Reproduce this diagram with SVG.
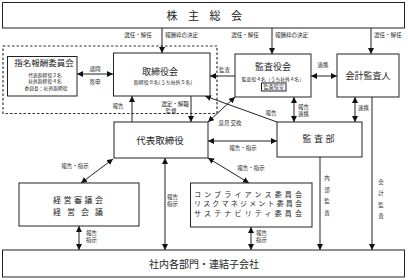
<svg xmlns="http://www.w3.org/2000/svg" width="408" height="280" viewBox="0 0 408 280">
<style>
  .box{fill:#fff;stroke:#222;stroke-width:1}
  .dash{fill:none;stroke:#333;stroke-width:1.2;stroke-dasharray:2.5,2}
  .ln{fill:none;stroke:#222;stroke-width:1}
  .one{marker-end:url(#ah)}
  .two{marker-start:url(#ah);marker-end:url(#ah)}
  text{font-family:"Noto Sans CJK JP","Noto Sans CJK SC",sans-serif;fill:#222}
  .t9{font-size:9px}
  .t8{font-size:8px}
  .t7{font-size:7px}
  .s{font-size:5.5px}
  .m{text-anchor:middle}
</style>
<defs>
  <marker id="ah" viewBox="0 0 6 6" refX="6" refY="3" markerWidth="6" markerHeight="6" markerUnits="userSpaceOnUse" orient="auto-start-reverse">
    <path d="M0,0 L6,3 L0,6 z" fill="#111"/>
  </marker>
</defs>

<g id="dashed-frame">
  <rect class="dash" x="3" y="46" width="214" height="67.5"/>
</g>

<g id="connectors">
  <line class="ln one" x1="162" y1="28" x2="162" y2="53"/>
  <line class="ln one" x1="272" y1="28" x2="272" y2="54"/>
  <line class="ln one" x1="371" y1="28" x2="371" y2="54"/>
  <line class="ln two" x1="77" y1="74" x2="113" y2="74"/>
  <line class="ln one" x1="235" y1="76" x2="210" y2="76"/>
  <line class="ln two" x1="311" y1="76" x2="337" y2="76"/>
  <line class="ln one" x1="191" y1="96" x2="191" y2="122"/>
  <line class="ln one" x1="132" y1="122" x2="132" y2="96"/>
  <line class="ln two" x1="208" y1="122" x2="235" y2="97"/>
  <line class="ln one" x1="277" y1="122" x2="205" y2="96"/>
  <line class="ln two" x1="294" y1="97" x2="294" y2="122"/>
  <line class="ln two" x1="355" y1="97" x2="355" y2="122"/>
  <line class="ln two" x1="208" y1="141" x2="277" y2="141"/>
  <line class="ln two" x1="113" y1="159" x2="81" y2="183"/>
  <line class="ln two" x1="208" y1="158" x2="249" y2="183"/>
  <line class="ln two" x1="165" y1="158" x2="165" y2="250"/>
  <line class="ln two" x1="79" y1="226" x2="79" y2="250"/>
  <line class="ln two" x1="251" y1="227" x2="251" y2="250"/>
  <line class="ln one" x1="320" y1="157" x2="320" y2="250"/>
  <line class="ln one" x1="372" y1="97" x2="372" y2="250"/>
</g>

<g id="connector-labels">
  <text class="s m" x="138" y="37">選任・解任</text>
  <text class="s" x="165" y="37">報酬枠の決定</text>
  <text class="s m" x="245" y="37">選任・解任</text>
  <text class="s" x="275" y="37">報酬枠の決定</text>
  <text class="s" x="374" y="37">選任・解任</text>
  <text class="s m" x="95" y="71">諮問</text>
  <text class="s m" x="95" y="84">答申</text>
  <text class="s" x="219" y="72">監査</text>
  <text class="s m" x="323" y="67">連携</text>
  <text class="s m" x="118" y="108">報告</text>
  <text class="s m" x="175" y="106">選定・解職</text>
  <text class="s m" x="171" y="113">監督</text>
  <text class="s m" x="230" y="125">意見 交換</text>
  <text class="s m" x="271" y="115">報告</text>
  <text class="s" x="298" y="109">報告</text>
  <text class="s" x="298" y="116">連携</text>
  <text class="s" x="358" y="110">連携</text>
  <text class="s m" x="243" y="150">報告・指示</text>
  <text class="s m" x="75" y="168">報告・指示</text>
  <text class="s m" x="251" y="170">報告・指示</text>
  <text class="s" x="167" y="199">報告</text>
  <text class="s" x="167" y="206">指示</text>
  <text class="s" x="86" y="235">報告</text>
  <text class="s" x="86" y="242">指示</text>
  <text class="s" x="256" y="235">報告</text>
  <text class="s" x="256" y="242">指示</text>
  <text class="s m" x="327" y="180">内</text>
  <text class="s m" x="327" y="192">部</text>
  <text class="s m" x="327" y="203">監</text>
  <text class="s m" x="327" y="215">査</text>
  <text class="s m" x="381" y="184">会</text>
  <text class="s m" x="381" y="195">計</text>
  <text class="s m" x="381" y="207">監</text>
  <text class="s m" x="381" y="218">査</text>
</g>

<g id="node-shareholders">
  <rect class="box" x="2.5" y="2.5" width="402" height="25.5"/>
  <text class="m" style="font-size:11px" x="172 193.5 215 236.5" y="20">株主総会</text>
</g>

<g id="node-nomination">
  <rect class="box" x="7.5" y="56.5" width="69.5" height="39.5"/>
  <text class="m" style="font-size:8.5px" x="44" y="66">指名報酬委員会</text>
  <text class="m" style="font-size:4.8px" x="45" y="76.5">代表取締役２名</text>
  <text class="m" style="font-size:4.8px" x="45" y="83.3">社外取締役４名</text>
  <text class="m" style="font-size:4.8px" x="46" y="90.1">委員長：社外取締役</text>
</g>

<g id="node-board">
  <rect class="box" x="113.5" y="53" width="96.5" height="43"/>
  <text class="t9 m" x="160" y="75">取締役会</text>
  <text class="m" style="font-size:5px" x="163" y="84">取締役８名(うち社外５名)</text>
</g>

<g id="node-auditors">
  <rect class="box" x="235" y="54" width="76" height="43"/>
  <text class="t9 m" x="273" y="70">監査役会</text>
  <text class="m" style="font-size:4.8px" x="273" y="80.5">監査役４名（うち社外４名）</text>
  <rect class="box" x="261.5" y="83" width="24.5" height="8"/>
  <text class="m" style="font-size:5.2px" x="273.8" y="89.3">監査役室</text>
</g>

<g id="node-accounting-auditor">
  <rect class="box" x="337" y="54" width="62" height="43"/>
  <text class="t9 m" x="368" y="79">会計監査人</text>
</g>

<g id="node-representative">
  <rect class="box" x="114" y="122" width="94" height="36"/>
  <text class="m" style="font-size:9.5px" x="160" y="144">代表取締役</text>
</g>

<g id="node-audit-dept">
  <rect class="box" x="277" y="122" width="85" height="35"/>
  <text class="t9 m" x="307 318.5 330" y="142">監査部</text>
</g>

<g id="node-management">
  <rect class="box" x="19" y="183" width="120" height="43"/>
  <text class="t8" x="53" y="203" textLength="50" lengthAdjust="spacing">経営審議会</text>
  <text class="t8" x="53" y="214.5" textLength="50" lengthAdjust="spacing">経営会議</text>
</g>

<g id="node-committees">
  <rect class="box" x="190.5" y="183" width="121.5" height="44"/>
  <text class="t7" x="194" y="196.5" textLength="108" lengthAdjust="spacing">コンプライアンス委員会</text>
  <text class="t7" x="194" y="206" textLength="108" lengthAdjust="spacing">リスクマネジメント委員会</text>
  <text class="t7" x="194" y="215.5" textLength="108" lengthAdjust="spacing">サステナビリティ委員会</text>
</g>

<g id="node-departments">
  <rect class="box" x="2.5" y="250" width="402" height="27"/>
  <text class="m" style="font-size:10px" x="204" y="268">社内各部門・連結子会社</text>
</g>
</svg>
